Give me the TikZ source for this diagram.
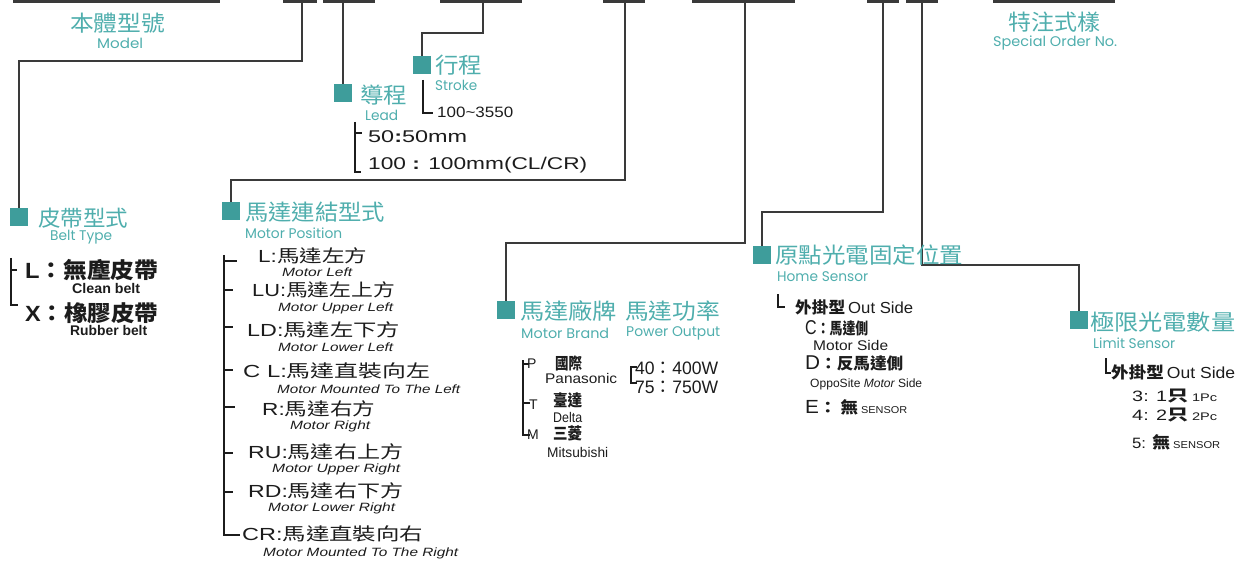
\documentclass[tikz,border=0pt]{standalone}
\usepackage{fontspec}
\setmainfont{Liberation Sans}
\newfontfamily\cjk{Noto Sans CJK TC}
\newfontfamily\geo{Poppins}
\newcommand\fs[1]{\fontsize{#1}{#1}\selectfont}
\newcommand\fw[2]{\resizebox{#1pt}{\height}{#2}}
\definecolor{sqc}{HTML}{3E9D9B}
\definecolor{tc}{HTML}{4FAEAD}
\definecolor{lnc}{HTML}{3A3A3A}
\definecolor{ink}{HTML}{1C1C1C}
\begin{document}
\begin{tikzpicture}[x=1pt,y=-1pt,
  bar/.style={line width=3pt,draw=lnc},
  conn/.style={line width=1.8pt,draw=lnc},
  brk/.style={line width=1.3pt,draw=ink},
  sq/.style={fill=sqc,minimum size=18pt,inner sep=0pt},
  head/.style={text=tc,inner sep=0pt,anchor=west,font=\cjk\fs{22}},
  sub/.style={text=tc,inner sep=0pt,anchor=west,font=\geo\fs{14}},
  itm/.style={text=ink,inner sep=0pt,anchor=west},
  mi/.style={itm,font=\fs{17.5}},
  me/.style={itm,font=\itshape\fs{12}}]
\useasboundingbox (0,0) rectangle (1236,561);

% top bars
\foreach \a/\b in {13/220,283/317,323/375,440/522,603/645,692/795,867/899,906/938,993/1115}
  \draw[bar] (\a,1.5) -- (\b,1.5);
\coordinate (b2) at (302,1.5);
\coordinate (b3) at (343,1.5);
\coordinate (b4) at (483,1.5);
\coordinate (b5) at (625,1.5);
\coordinate (b6) at (745,1.5);
\coordinate (b7) at (883,1.5);
\coordinate (b8) at (922,1.5);

% squares
\node[sq] (sqBelt) at (19,217.5) {};
\node[sq] (sqLead) at (343,93) {};
\node[sq] (sqStroke) at (422,65) {};
\node[sq] (sqMotor) at (231,211) {};
\node[sq] (sqBrand) at (506,310) {};
\node[sq] (sqHome) at (762,255) {};
\node[sq] (sqLimit) at (1079,320) {};

% connectors
\draw[conn] (b2) -- ++(0,59.5) -| (sqBelt.north);
\draw[conn] (b3) -- (sqLead.north);
\draw[conn] (b4) -- ++(0,31.5) -| (sqStroke.north);
\draw[conn] (b5) -- ++(0,178.5) -| (sqMotor.north);
\draw[conn] (b6) -- ++(0,241.5) -| (sqBrand.north);
\draw[conn] (b7) -- ++(0,210.5) -| (sqHome.north);
\draw[conn] (b8) -- ++(0,263.5) -| (sqLimit.north);

% headings
\node[head] (tModel) at (70,23) {\fw{95}{本體型號}};
\node[sub] (sModel) at (97,43) {\fw{46}{Model}};
\node[head] (tSpec) at (1008,22) {\fw{92}{特注式樣}};
\node[sub] (sSpec) at (993,43) {\fw{124}{Special Order No.}};
\node[head] (tLead) at (360,95) {\fw{47}{導程}};
\node[sub] (sLead) at (365,115) {\fw{33}{Lead}};
\node[head] (tStroke) at (435,65) {\fw{47}{行程}};
\node[sub] (sStroke) at (435,85) {\fw{42}{Stroke}};
\node[head] (tBelt) at (38,218) {\fw{90}{皮帶型式}};
\node[sub] (sBelt) at (50,237) {\fw{62}{Belt Type}};
\node[head] (tMotor) at (245,212) {\fw{140}{馬達連結型式}};
\node[sub] (sMotor) at (245,233) {\fw{97}{Motor Position}};
\node[head] (tBrand) at (520,311) {\fw{97}{馬達廠牌}};
\node[head] (tPower) at (625,311) {\fw{95}{馬達功率}};
\node[sub] (sBrand) at (521,333) {\fw{88}{Motor Brand}};
\node[sub] (sPower) at (626,333) {\fw{94}{Power Output}};
\node[head] (tHome) at (775,255) {\fw{188}{原點光電固定位置}};
\node[sub] (sHome) at (777,277) {\fw{91}{Home Sensor}};
\node[head] (tLimit) at (1090,322) {\fw{145}{極限光電數量}};
\node[sub] (sLimit) at (1093,343) {\fw{82}{Limit Sensor}};

% lead
\draw[brk] (355,122) -- (355,172) -- (361,172);
\draw[brk] (355,133) -- (362,133);
\node[itm,font=\fs{17}] (l50) at (368,137) {\fw{99}{50{\bfseries :}50mm}};
\node[itm,font=\fs{17}] (l100) at (368,165) {\fw{219}{100 {\bfseries :} 100mm(CL/CR)}};

% stroke
\draw[brk] (423,80) -- (423,113) -- (433,113);
\node[itm,font=\fs{15}] (s100) at (437,112) {\fw{76}{100\textasciitilde3550}};

% belt
\draw[brk] (11,258) -- (11,305) -- (18,305);
\draw[brk] (11,270) -- (17,270);
\node[itm,font=\bfseries\fs{22}] (bL) at (25,270) {\fw{133}{L{\cjk ：無塵皮帶}}};
\node[itm,font=\bfseries\fs{14}] (bLe) at (72,288) {\fw{68}{Clean belt}};
\node[itm,font=\bfseries\fs{22}] (bX) at (25,313) {\fw{133}{X{\cjk ：橡膠皮帶}}};
\node[itm,font=\bfseries\fs{14}] (bXe) at (70,330) {\fw{77}{Rubber belt}};

% motor position
\draw[brk] (224,255) -- (224,535) -- (240,535);
\foreach \y/\e in {261/237,290/233,327/233,370/233,407/235,453/233,492/233}
  \draw[brk] (224,\y) -- (\e,\y);
\node[mi] (mL) at (258,256) {\fw{109}{L:{\cjk 馬達左方}}};
\node[me] (mLe) at (282,272) {\fw{70}{Motor Left}};
\node[mi] (mLU) at (252,290) {\fw{143}{LU:{\cjk 馬達左上方}}};
\node[me] (mLUe) at (278,308) {\fw{115}{Motor Upper Left}};
\node[mi] (mLD) at (247,330) {\fw{153}{LD:{\cjk 馬達左下方}}};
\node[me] (mLDe) at (278,347) {\fw{115}{Motor Lower Left}};
\node[mi] (mCL) at (243,371) {\fw{187}{C L:{\cjk 馬達直裝向左}}};
\node[me] (mCLe) at (277,389) {\fw{183}{Motor Mounted To The Left}};
\node[mi] (mR) at (262,409) {\fw{113}{R:{\cjk 馬達右方}}};
\node[me] (mRe) at (290,426) {\fw{80}{Motor Right}};
\node[mi] (mRU) at (248,452) {\fw{155}{RU:{\cjk 馬達右上方}}};
\node[me] (mRUe) at (272,469) {\fw{128}{Motor Upper Right}};
\node[mi] (mRD) at (248,491) {\fw{155}{RD:{\cjk 馬達右下方}}};
\node[me] (mRDe) at (268,508) {\fw{127}{Motor Lower Right}};
\node[mi] (mCR) at (242,534) {\fw{181}{CR:{\cjk 馬達直裝向右}}};
\node[me] (mCRe) at (263,553) {\fw{195}{Motor Mounted To The Right}};

% brand
\draw[brk] (523,360) -- (523,435) -- (530,435);
\draw[brk] (523,364) -- (529,364);
\draw[brk] (523,403) -- (530,403);
\node[itm,font=\fs{14}] (bP) at (527,364) {P};
\node[itm,font=\cjk\bfseries\fs{16}] (bPz) at (555,363) {\fw{27}{國際}};
\node[itm,font=\fs{14}] (bPe) at (545,378) {\fw{72}{Panasonic}};
\node[itm,font=\fs{14}] (bT) at (529,405) {T};
\node[itm,font=\cjk\bfseries\fs{16}] (bTz) at (553,400) {\fw{29}{臺達}};
\node[itm,font=\fs{14}] (bTe) at (553,417) {\fw{29}{Delta}};
\node[itm,font=\fs{14}] (bM) at (527,435) {M};
\node[itm,font=\cjk\bfseries\fs{16}] (bMz) at (553,433) {\fw{29}{三菱}};
\node[itm,font=\fs{14}] (bMe) at (547,452) {\fw{61}{Mitsubishi}};

% power
\draw[brk] (637,367) -- (631,367) -- (631,383) -- (637,383);
\node[itm,font=\fs{18}] (p40) at (635,368) {\fw{83}{40{\cjk ：}400W}};
\node[itm,font=\fs{18}] (p75) at (635,387) {\fw{83}{75{\cjk ：}750W}};

% home sensor
\draw[brk] (778,294) -- (778,307) -- (785,307);
\node[itm] (hOut) at (795,307) {\fw{118}{{\cjk\bfseries\fs{16}外掛型} {\fs{16}Out Side}}};
\node[itm] (hC) at (805,328) {\fw{63}{{\fs{20}C}{\cjk\bfseries\fs{16}：馬達側}}};
\node[itm,font=\fs{14}] (hCe) at (813,345) {\fw{75}{Motor Side}};
\node[itm] (hD) at (805,363) {\fw{98}{{\fs{20}D}{\cjk\bfseries\fs{16}：反馬達側}}};
\node[itm,font=\fs{12}] (hDe) at (810,384) {\fw{112}{OppoSite {\itshape Motor} Side}};
\node[itm] (hE) at (805,407) {\fw{102}{{\fs{19}E}{\cjk\bfseries\fs{16}： 無} {\fs{10}SENSOR}}};

% limit sensor
\draw[brk] (1106,358) -- (1106,373) -- (1111,373);
\node[itm] (lOut) at (1111,372) {\fw{124}{{\cjk\bfseries\fs{16}外掛型} {\fs{16}Out Side}}};
\node[itm] (l3) at (1132,396) {\fw{85}{{\fs{15}3: 1}{\cjk\bfseries\fs{16}只} {\fs{11}1Pc}}};
\node[itm] (l4) at (1132,415) {\fw{85}{{\fs{15}4: 2}{\cjk\bfseries\fs{16}只} {\fs{11}2Pc}}};
\node[itm] (l5) at (1132,442) {\fw{88}{{\fs{15}5: }{\cjk\bfseries\fs{16}無} {\fs{10}SENSOR}}};
\end{tikzpicture}
\end{document}
